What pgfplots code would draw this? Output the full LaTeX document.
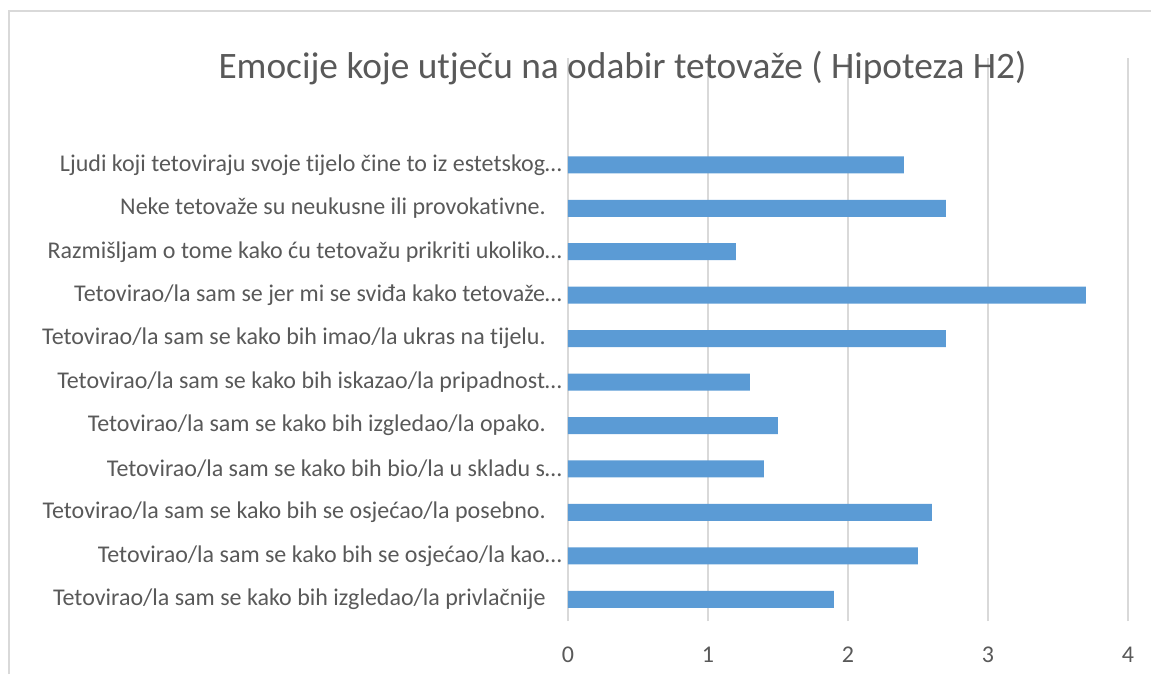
\documentclass[border=0pt]{standalone}
\usepackage{fontspec}
\setmainfont{Carlito}[RawFeature={-liga;-clig;-dlig}]
\usepackage{pgfplots}
\pgfplotsset{compat=1.18}
\usepackage{pgfplotstable}
\definecolor{barblue}{HTML}{5B9BD5}
\definecolor{txtgray}{HTML}{595959}
\definecolor{gridgray}{HTML}{D9D9D9}
% pos = category slot (0 = bottom), val = mean score
\pgfplotstableread{
pos val
0  1.9
1  2.5
2  2.6
3  1.4
4  1.5
5  1.3
6  2.7
7  3.7
8  1.2
9  2.7
10 2.4
}\emotions
\newcommand{\gap}{\kern12pt}
\begin{document}
\begin{tikzpicture}
\useasboundingbox (-426pt,-39.75pt) rectangle (437.25pt,465.75pt);
\draw[gridgray, line width=1pt] (-419.25pt,-39.75pt) -- (-419.25pt,457.5pt) -- (437.25pt,457.5pt);
\begin{axis}[
    scale only axis,
    width=420pt, height=422.25pt,
    xbar, bar width=12.75pt,
    xmin=0, xmax=4, ymin=-0.5, ymax=12.46,
    xtick={0,1,2,3,4},
    ytick={0,...,10},
    yticklabels={
      {Tetovirao/la sam se kako bih izgledao/la privlačnije\gap},
      {Tetovirao/la sam se kako bih se osjećao/la kao…},
      {Tetovirao/la sam se kako bih se osjećao/la posebno.\gap},
      {Tetovirao/la sam se kako bih bio/la u skladu s…},
      {Tetovirao/la sam se kako bih izgledao/la opako.\gap},
      {Tetovirao/la sam se kako bih iskazao/la pripadnost…},
      {Tetovirao/la sam se kako bih imao/la ukras na tijelu.\gap},
      {Tetovirao/la sam se jer mi se sviđa kako tetovaže…},
      {Razmišljam o tome kako ću tetovažu prikriti ukoliko…},
      {Neke tetovaže su neukusne ili provokativne.\gap},
      {Ljudi koji tetoviraju svoje tijelo čine to iz estetskog…},
    },
    axis line style={draw=none},
    major tick length=0pt,
    xmajorgrids,
    grid style={gridgray, line width=1pt},
    tick label style={font=\fontsize{18}{20}\selectfont, text=txtgray, inner sep=0pt},
    /pgf/number format/assume math mode=true,
    yticklabel shift=4.5pt,
    xticklabel shift=19pt,
    clip=false,
]
\addplot[fill=barblue, draw=none] table[x=val, y=pos] {\emotions};
\end{axis}
\node[anchor=base, text=txtgray, font=\fontsize{28}{32}\selectfont] at (40.9pt,407pt) {Emocije koje utječu na odabir tetovaže ( Hipoteza H2)};
\end{tikzpicture}
\end{document}
